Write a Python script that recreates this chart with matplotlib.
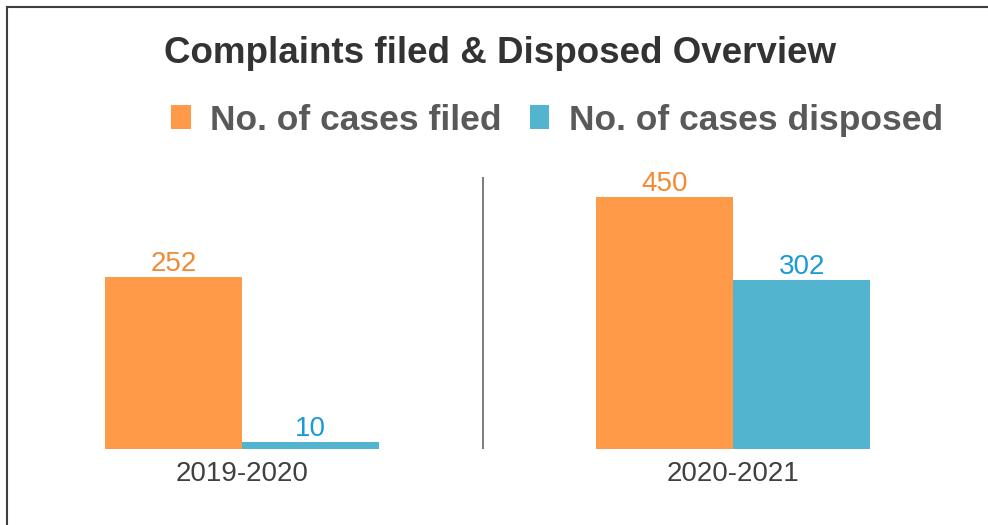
import matplotlib
matplotlib.use("Agg")
import matplotlib.pyplot as plt
from matplotlib.patches import Patch
from matplotlib.lines import Line2D

# ---- data ----
years = ["2019-2020", "2020-2021"]
filed = [252, 450]
disposed = [10, 302]
series_names = ["No. of cases filed", "No. of cases disposed"]

# ---- style ----
c_filed = "#FF9B48"
c_disp = "#52B4CE"
c_filed_txt = "#F28A35"
c_disp_txt = "#1A9AD8"
plt.rcParams["font.family"] = ["Liberation Sans", "DejaVu Sans"]

fig = plt.figure(figsize=(9.88, 5.25), dpi=100)
fig.patch.set_facecolor("white")

ax1 = fig.add_axes([0.0, 0.1448, 1.0, 0.518])
ax2 = ax1.twinx()
axes = [ax1, ax2]
headroom = [1.581, 1.079]  # each group drawn on its own value scale

w = 0.279
for i, ax in enumerate(axes):
    b1 = ax.bar(i - w / 2, filed[i], w, color=c_filed, linewidth=0)
    b2 = ax.bar(i + w / 2, disposed[i], w, color=c_disp, linewidth=0)
    ax.bar_label(b1, padding=0, fontsize=20, color=c_filed_txt)
    ax.bar_label(b2, padding=0, fontsize=20, color=c_disp_txt)
    ax.set_ylim(0, max(filed[i], disposed[i]) * headroom[i])
    ax.set_xlim(-0.493, 1.519)
    for s in ax.spines.values():
        s.set_visible(False)
    ax.set_yticks([])
    ax.patch.set_alpha(0)

ax1.set_xticks(range(len(years)))
ax1.set_xticklabels(years, fontsize=20, color="#404040")
ax1.tick_params(axis="x", length=0, pad=9)
ax1.axvline(0.491, color="#707070", lw=1.3)

# title
fig.text(0.5066, 0.899, "Complaints filed & Disposed Overview", ha="center",
         va="center", fontsize=26.5, fontweight="bold", color="#333333")

# legend
handles = [Patch(facecolor=c_filed, edgecolor="none"),
           Patch(facecolor=c_disp, edgecolor="none")]
leg = fig.legend(handles, series_names, loc="center", bbox_to_anchor=(0.564, 0.771),
                 ncol=2, frameon=False, handlelength=0.55, handleheight=0.65,
                 handletextpad=0.56, columnspacing=0.79,
                 prop={"size": 25.5, "weight": "bold"})
for t in leg.get_texts():
    t.set_color("#595959")

# border (top and left)
fig.add_artist(Line2D([0.007, 1.0], [1 - 7 / 525, 1 - 7 / 525], color="#404040", lw=1.5,
                      transform=fig.transFigure))
fig.add_artist(Line2D([7 / 988, 7 / 988], [0, 1 - 7 / 525], color="#404040", lw=1.5,
                      transform=fig.transFigure))

fig.savefig("out.png", dpi=100)
